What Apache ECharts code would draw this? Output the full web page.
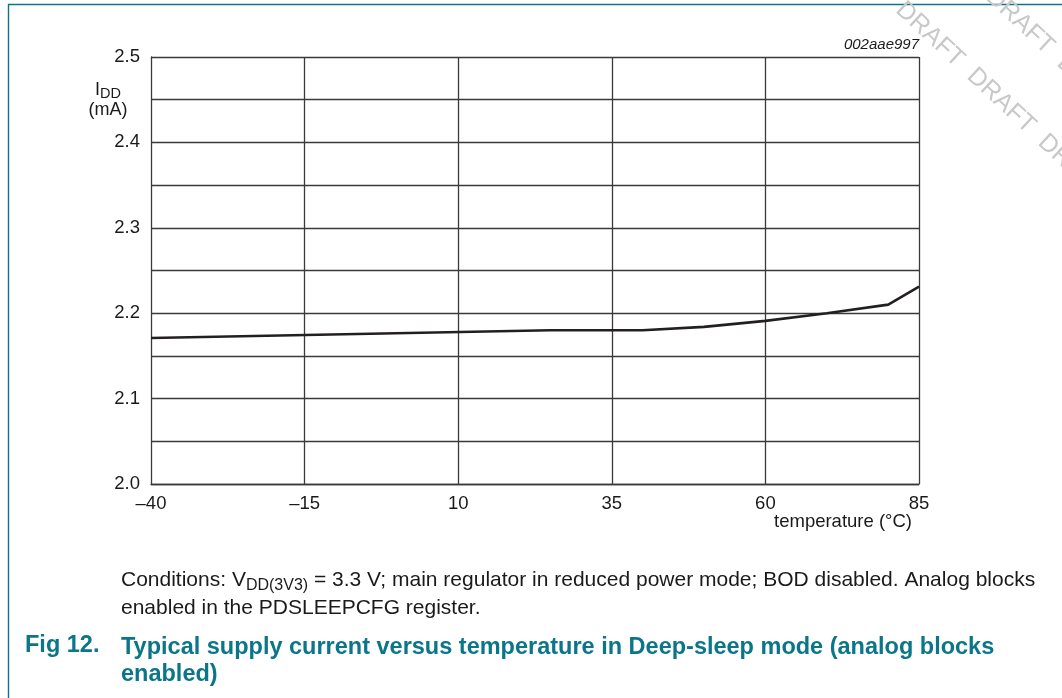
<!DOCTYPE html>
<html>
<head>
<meta charset="utf-8">
<title>Typical supply current versus temperature in Deep-sleep mode</title>
<script src="https://cdn.jsdelivr.net/npm/echarts@6/dist/echarts.min.js"></script>
<style>
  html, body { margin: 0; padding: 0; background: #fff; }
  #chart { width: 1062px; height: 698px; }
</style>
</head>
<body>
<div id="chart"></div>
<script>
// data
const temperatures = [-40, 25, 40, 50, 60, 70, 80, 85];
const iddValues = [2.171, 2.180, 2.180, 2.184, 2.191, 2.200, 2.210, 2.231];
const xTickValues = [-40, -15, 10, 35, 60, 85];
const yRange = [2.0, 2.5];

const teal = "#0b7689";
const ink = "#1a1a1a";
const gridColor = "#3a3a3a";
const font = "'Liberation Sans', Arial, sans-serif";

// 1. init
const mChart = echarts.init(document.getElementById("chart"));

// 2. option
const options = {
  animation: false,
  grid: { left: 151, top: 57, width: 768, height: 427 },
  xAxis: {
    type: "value",
    min: xTickValues[0],
    max: xTickValues[xTickValues.length - 1],
    axisLine: { show: true, onZero: false, lineStyle: { color: gridColor, width: 1.3 } },
    axisTick: { show: false, customValues: xTickValues },
    axisLabel: {
      customValues: xTickValues,
      color: ink,
      fontFamily: font,
      fontSize: 18.5,
      margin: 10,
      formatter: (v) => (v < 0 ? "\u2013" + Math.abs(v) : String(v)),
    },
    // vertical grid lines come from the markLine below
    splitLine: { show: false },
  },
  yAxis: {
    type: "value",
    min: yRange[0],
    max: yRange[1],
    interval: 0.05,
    axisLine: { show: true, onZero: false, lineStyle: { color: gridColor, width: 1.3 } },
    axisTick: { show: false },
    axisLabel: {
      color: ink,
      fontFamily: font,
      fontSize: 18.5,
      margin: 11,
      formatter: (v) => (Math.round(v * 100) % 10 === 0 ? v.toFixed(1) : ""),
    },
    splitLine: { show: true, lineStyle: { color: gridColor, width: 1.3 } },
  },
  series: [
    {
      type: "line",
      data: temperatures.map((t, i) => [t, iddValues[i]]),
      showSymbol: false,
      lineStyle: { color: "#231f20", width: 2.6 },
      z: 5,
      markLine: {
        silent: true,
        symbol: "none",
        label: { show: false },
        lineStyle: { color: gridColor, width: 1.3, type: "solid" },
        data: xTickValues.slice(1).map((v) => ({ xAxis: v })),
        z: 1,
      },
    },
  ],
  graphic: [
    // frame
    { type: "line", shape: { x1: 8, y1: 4.5, x2: 1062, y2: 4.5 }, style: { stroke: teal, lineWidth: 1.4 } },
    { type: "line", shape: { x1: 8.5, y1: 4, x2: 8.5, y2: 698 }, style: { stroke: teal, lineWidth: 1.4 } },
    // watermark
    {
      type: "text", x: 908, y: -3, rotation: -0.75, z: 0,
      style: { text: "DRAFT  DRAFT  DRAFT", fill: "#c8c8c8", font: "25px " + font },
    },
    {
      type: "text", x: 998, y: -16, rotation: -0.75, z: 0,
      style: { text: "DRAFT  DRAFT", fill: "#c8c8c8", font: "25px " + font },
    },
    // figure id
    {
      type: "text", right: 143, top: 37,
      style: { text: "002aae997", fill: ink, font: "italic 15px " + font },
    },
    // y axis name
    {
      type: "text", x: 108, y: 90,
      style: {
        text: "{m|I}{s|DD}",
        align: "center", verticalAlign: "middle",
        rich: {
          m: { fontSize: 18, fontFamily: font, fill: ink, lineHeight: 22 },
          s: { fontSize: 14.5, fontFamily: font, fill: ink, lineHeight: 15, verticalAlign: "bottom" },
        },
      },
    },
    {
      type: "text", x: 108, y: 110,
      style: { text: "(mA)", fill: ink, font: "18px " + font, align: "center", verticalAlign: "middle" },
    },
    // x axis name
    {
      type: "text", x: 912, y: 522,
      style: { text: "temperature (\u00b0C)", fill: ink, font: "18.5px " + font, align: "right", verticalAlign: "middle" },
    },
    // conditions note
    {
      type: "text", x: 121, y: 566,
      style: {
        text:
          "{m|Conditions: V}{s|DD(3V3)}{m| = 3.3 V; main regulator in reduced power mode; BOD disabled. Analog blocks}\n" +
          "{m|enabled in the PDSLEEPCFG register.}",
        rich: {
          m: { fontSize: 21, fontFamily: font, fill: ink, lineHeight: 28 },
          s: { fontSize: 16, fontFamily: font, fill: ink, lineHeight: 20, verticalAlign: "bottom" },
        },
      },
    },
    // caption
    {
      type: "text", x: 25, y: 634,
      style: { text: "Fig 12.", fill: teal, font: "bold 23.5px " + font },
    },
    {
      type: "text", x: 121, y: 634,
      style: {
        text: "Typical supply current versus temperature in Deep-sleep mode (analog blocks\nenabled)",
        fill: teal, font: "bold 23.5px " + font, lineHeight: 27,
      },
    },
  ],
};

// 3. render
mChart.setOption(options);
</script>
</body>
</html>
